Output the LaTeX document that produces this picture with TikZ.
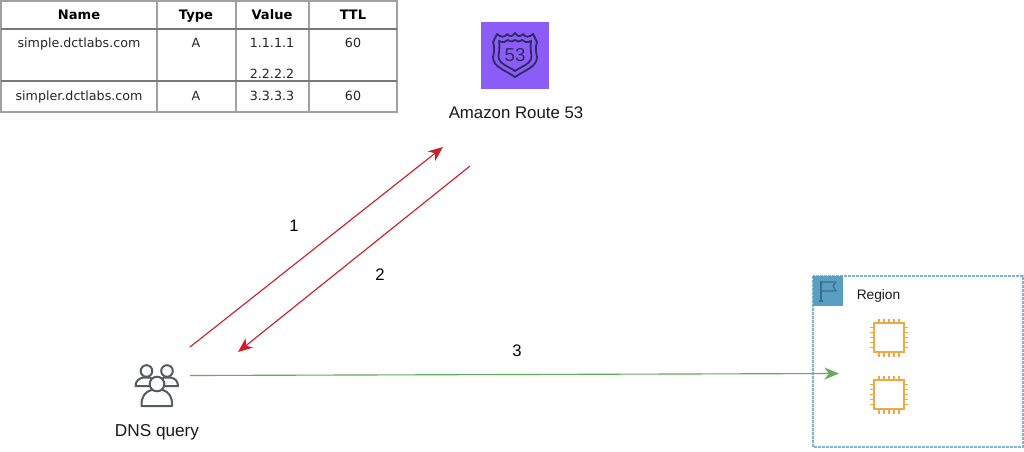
\documentclass[tikz,border=0pt]{standalone}
\usepackage{fontspec}
\setmainfont{Liberation Sans}
\newfontfamily\tablefont{DejaVu Sans}
\usetikzlibrary{arrows.meta}
\definecolor{tabgrid}{HTML}{A0A0A0}
\definecolor{rfivepurple}{HTML}{8C5CF6}
\definecolor{rfiveink}{HTML}{2E2A66}
\definecolor{arrowred}{HTML}{CC1F2A}
\definecolor{arrowgreen}{HTML}{62AD57}
\definecolor{regionblue}{HTML}{5A9FC2}
\definecolor{regiondash}{HTML}{7FB4CC}
\definecolor{flagink}{HTML}{3A6E8E}
\definecolor{chiporange}{HTML}{EFA843}
\definecolor{usergrey}{HTML}{555A63}
\tikzset{
  x=0.75pt,y=-0.75pt,
  cell/.style={font=\tablefont\fontsize{9.5}{10}\selectfont,text=black!85,inner sep=0pt,anchor=base},
  headcell/.style={cell,font=\tablefont\bfseries\fontsize{9.8}{10}\selectfont,text=black},
  gridthin/.style={draw=tabgrid,line width=0.9pt},
  gridthick/.style={draw=tabgrid!75!black,line width=1.5pt},
  caption/.style={font=\fontsize{12.6}{14}\selectfont,text=black!90,inner sep=0pt,anchor=base},
  numlabel/.style={font=\fontsize{12.5}{14}\selectfont,text=black,inner sep=0pt},
  redflow/.style={draw=arrowred,line width=0.85pt,-{Stealth[length=11pt,width=9pt,inset=3.5pt]}},
  greenflow/.style={draw=arrowgreen,line width=0.85pt,-{Stealth[length=11pt,width=9pt,inset=3.5pt]}},
  chipline/.style={draw=chiporange,line width=1.2pt},
  userline/.style={draw=usergrey,line width=1.5pt,fill=white,line join=round},
}
\newcommand{\chipicon}[2]{%
  \begin{scope}[shift={(#1,#2)}]
    \foreach \t in {-10,-5,0,5,10}{
      \draw[chipline] (\t,-15) -- (\t,-19);
      \draw[chipline] (\t,15) -- (\t,19);
      \draw[chipline] (-15,\t) -- (-19,\t);
      \draw[chipline] (15,\t) -- (19,\t);
    }
    \draw[chipline,line width=1.4pt,fill=white] (-15,-14.5) rectangle (15,14.5);
  \end{scope}}
\begin{document}
\begin{tikzpicture}
\useasboundingbox (0,0) rectangle (1024,451);
\fill[white] (0,0) rectangle (1024,451);
% table
\draw[gridthin] (1,1) rectangle (397,112);
\foreach \cx in {157,236,309}{\draw[gridthin] (\cx,1) -- (\cx,112);}
\draw[gridthick] (1,29) -- (397,29);
\draw[gridthick] (1,81) -- (397,81);
\node[headcell] (hname) at (79,19.5) {Name};
\node[headcell] (htype) at (196,19.5) {Type};
\node[headcell] (hvalue) at (272,19.5) {Value};
\node[headcell] (httl) at (353,19.5) {TTL};
\node[cell] (n1) at (79,47) {simple.dctlabs.com};
\node[cell] (t1) at (196,47) {A};
\node[cell] (v1) at (272,47) {1.1.1.1};
\node[cell] (v2) at (272,78) {2.2.2.2};
\node[cell] (ttl1) at (353,47) {60};
\node[cell] (n2) at (79,100) {simpler.dctlabs.com};
\node[cell] (t2) at (196,100) {A};
\node[cell] (v3) at (272,100) {3.3.3.3};
\node[cell] (ttl2) at (353,100) {60};
% Route 53 icon
\fill[rfivepurple] (481,22) rectangle (549,89);
\begin{scope}[shift={(515,55)},draw=rfiveink,line join=round,line width=1.35pt]
  \draw (-18,-21) .. controls (-15,-18) and (-10,-17) .. (-8,-21) .. controls (-5,-18) and (-3,-18) .. (0,-22)
        .. controls (3,-18) and (5,-18) .. (8,-21) .. controls (10,-17) and (15,-18) .. (18,-21)
        -- (22,-13) .. controls (20,-7) and (21,-3) .. (22,2)
        .. controls (22,12) and (10,15) .. (0,22) .. controls (-10,15) and (-22,12) .. (-22,2)
        .. controls (-21,-3) and (-20,-7) .. (-22,-13) -- cycle;
  \draw (-16,-14) .. controls (-12,-12) and (-9,-13) .. (-7,-15) .. controls (-4,-13) and (-2,-13) .. (0,-15)
        .. controls (2,-13) and (4,-13) .. (7,-15) .. controls (9,-13) and (12,-12) .. (16,-14)
        .. controls (15,-7) and (16,-3) .. (16.5,1)
        .. controls (16.5,9) and (7,11) .. (0,16) .. controls (-7,11) and (-16.5,9) .. (-16.5,1)
        .. controls (-16,-3) and (-15,-7) .. (-16,-14) -- cycle;
\end{scope}
\node[font=\fontsize{14}{15}\selectfont,text=rfiveink,inner sep=0pt] (r53num) at (515,55.5) {53};
\node[caption] (r53) at (516,118) {Amazon Route 53};
% users icon
\draw[userline] (135.5,386) .. controls (135.5,381) and (139,378.5) .. (143,377.5) -- (150,377.5) .. controls (153,379) and (156,381) .. (156,386) -- cycle;
\draw[userline] (157.5,386) .. controls (157.5,381) and (161,379) .. (164,377.5) -- (171,377.5) .. controls (175,378.5) and (178,381) .. (178,386) -- cycle;
\draw[userline] (146.5,371) circle (5.8);
\draw[userline] (167,371) circle (5.8);
\draw[userline] (141.5,406) .. controls (141,397) and (145,392) .. (151,390) -- (163,390) .. controls (169,392) and (172.5,397) .. (172,406) -- cycle;
\draw[userline] (157,384) circle (7.3);
\node[caption,font=\fontsize{12.9}{14}\selectfont] (dns) at (157,436) {DNS query};
% region
\draw[draw=regiondash,line width=0.9pt,dash pattern=on 2pt off 1pt] (813,276) rectangle (1023,447);
\fill[regionblue] (813,276) rectangle (843,306);
\draw[flagink,line width=0.9pt] (821,301) -- (821,281);
\draw[flagink,line width=0.9pt,line join=round] (821,282) -- (836,282) -- (833,286) -- (836,291) -- (821,291);
\draw[flagink,line width=0.9pt] (819,301) -- (823,301);
\node[caption,font=\fontsize{10.3}{11}\selectfont] (region) at (878.5,299.5) {Region};
\chipicon{889}{337.5}
\chipicon{889}{394.5}
% connectors
\coordinate (a1s) at (190,347);
\coordinate (a1e) at (443,147);
\coordinate (a2s) at (470,166);
\coordinate (a2e) at (238,352);
\coordinate (a3s) at (190,375.5);
\coordinate (a3e) at (839,373.5);
\draw[redflow] (a1s) -- (a1e);
\draw[redflow] (a2s) -- (a2e);
\draw[greenflow] (a3s) -- (a3e);
\node[numlabel] (l1) at (294,226) {1};
\node[numlabel] (l2) at (380,275) {2};
\node[numlabel] (l3) at (517,351) {3};
\end{tikzpicture}
\end{document}
